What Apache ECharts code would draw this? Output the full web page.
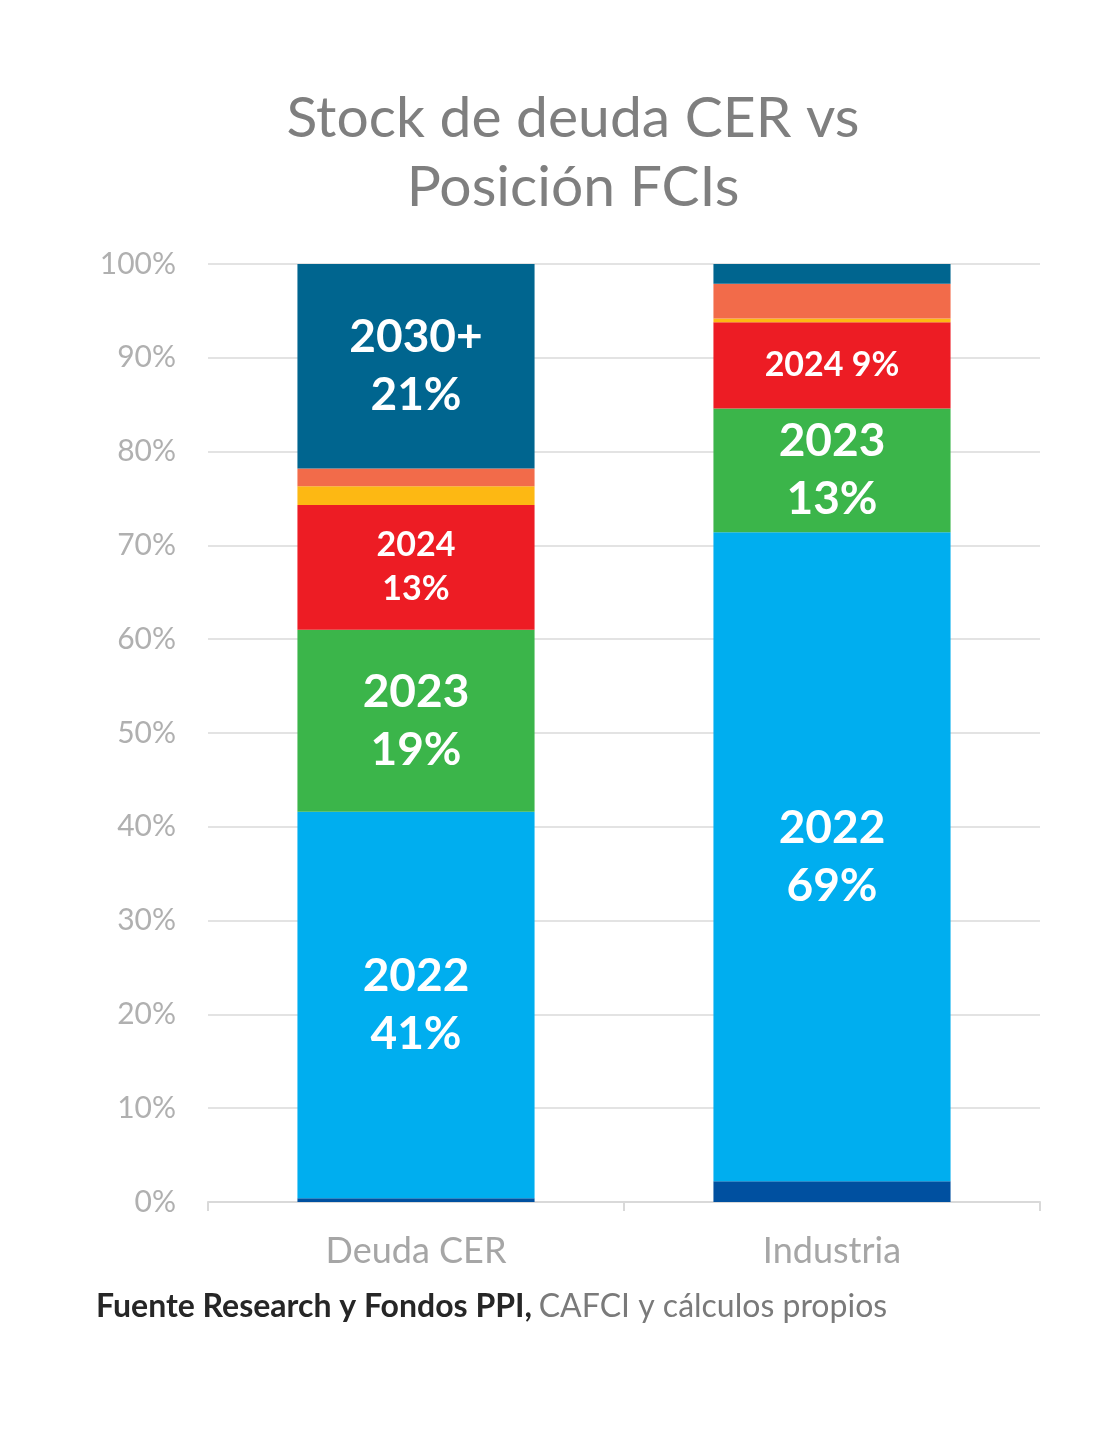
<!DOCTYPE html>
<html>
<head>
<meta charset="utf-8">
<script src="https://cdn.jsdelivr.net/npm/echarts@6/dist/echarts.min.js"></script>
<style>
html,body{margin:0;padding:0;background:#fff;}
#main{width:1100px;height:1447px;}
</style>
</head>
<body>
<div id="main"></div>
<script>
// Data
const categories = ['Deuda CER', 'Industria'];
const seriesNames = ['2021', '2022', '2023', '2024', '2025', '2026', '2030+'];
const v2021 = [0.4, 2.2];
const v2022 = [41.2, 69.2];
const v2023 = [19.4, 13.2];
const v2024 = [13.3, 9.2];
const v2025 = [2.0, 0.4];
const v2026 = [1.9, 3.7];
const v2030 = [21.8, 2.1];
const yTicks = ['0%','10%','20%','30%','40%','50%','60%','70%','80%','90%','100%'];
// segment labels (null = no label)
const lab2021 = [null, null];
const lab2022 = ['2022\n41%', '2022\n69%'];
const lab2023 = ['2023\n19%', '2023\n13%'];
const lab2024 = ['2024\n13%', '2024 9%'];
const lab2025 = [null, null];
const lab2026 = [null, null];
const lab2030 = ['2030+\n21%', null];

const colors = ['#0050a0', '#00aeef', '#3bb54a', '#ed1c24', '#fdb813', '#f26b4a', '#00658f'];
const values = [v2021, v2022, v2023, v2024, v2025, v2026, v2030];
const labels = [lab2021, lab2022, lab2023, lab2024, lab2025, lab2026, lab2030];
const FONT = 'Lato, sans-serif';

function labelStyle(text) {
  if (!text) return { show: false };
  const small = (text.indexOf('2024') === 0);
  return {
    show: true,
    position: 'inside',
    formatter: text,
    color: '#ffffff',
    fontFamily: FONT,
    fontWeight: 'bold',
    fontSize: small ? 34 : 46,
    lineHeight: small ? 44 : 58
  };
}

const series = seriesNames.map((name, i) => ({
  name: name,
  type: 'bar',
  stack: 'total',
  barWidth: '57%',
  itemStyle: { color: colors[i] },
  data: values[i].map((v, j) => ({ value: v, label: labelStyle(labels[i][j]) })),
  emphasis: { disabled: true }
}));

const chart = echarts.init(document.getElementById('main'), null, { renderer: 'canvas' });
chart.setOption({
  animation: false,
  backgroundColor: '#ffffff',
  grid: { left: 208, right: 60, top: 264, bottom: 245, containLabel: false },
  xAxis: {
    type: 'category',
    data: categories,
    axisLine: { show: true, lineStyle: { color: '#d9d9d9', width: 2 } },
    axisTick: { show: true, length: 9, lineStyle: { color: '#d9d9d9', width: 2 } },
    axisLabel: { color: '#a6a6a6', fontFamily: FONT, fontSize: 36, margin: 31 }
  },
  yAxis: {
    type: 'value',
    min: 0,
    max: 100,
    interval: 10,
    axisLine: { show: false },
    axisTick: { show: false },
    splitLine: { lineStyle: { color: '#e3e3e3', width: 2 } },
    axisLabel: {
      color: '#b0b0b0', fontFamily: FONT, fontSize: 30, margin: 32,
      formatter: function (v) { return yTicks[Math.round(v / 10)]; }
    }
  },
  series: series,
  graphic: [
    {
      type: 'text', x: 573, y: 153,
      style: {
        text: 'Stock de deuda CER vs\nPosición FCIs',
        align: 'center', verticalAlign: 'middle',
        fill: '#7f7f7f', font: '57px Lato, sans-serif', lineHeight: 69
      }
    },
    {
      type: 'text', x: 96, y: 1307,
      style: {
        text: '{b|Fuente Research y Fondos PPI,}  {n|CAFCI y cálculos propios}',
        verticalAlign: 'middle',
        rich: {
          b: { fontFamily: FONT, fontWeight: 'bold', fontSize: 32, fill: '#262626', color: '#262626' },
          n: { fontFamily: FONT, fontSize: 32, fill: '#7a7a7a', color: '#7a7a7a' }
        }
      }
    }
  ]
});
</script>
</body>
</html>
